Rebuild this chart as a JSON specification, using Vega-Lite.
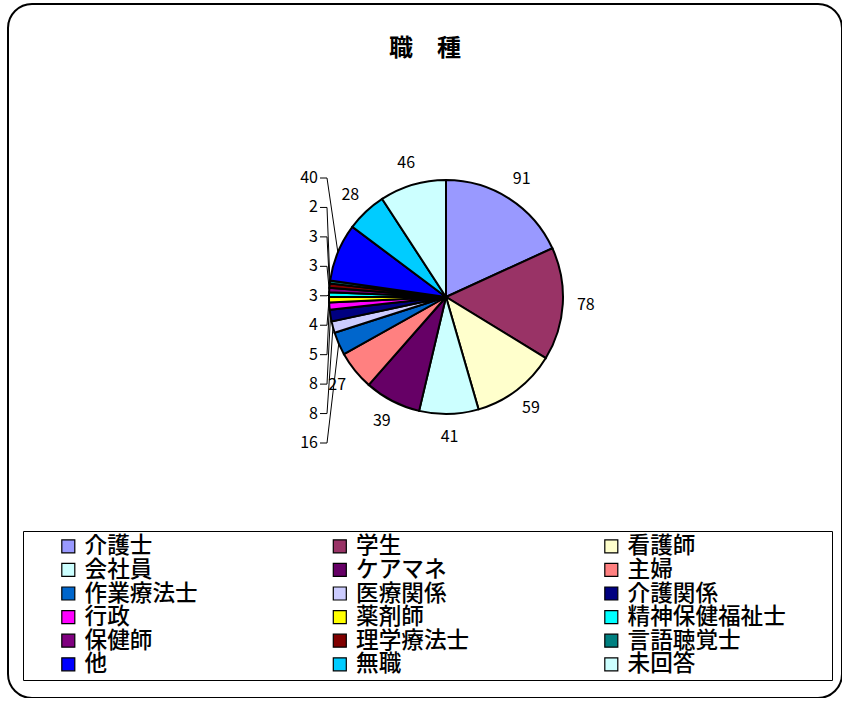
{
  "$schema": "https://vega.github.io/schema/vega-lite/v6.json",
  "width": 834,
  "height": 694,
  "padding": {"left": 8, "top": 4, "right": 0, "bottom": 0},
  "autosize": {"type": "none"},
  "background": "white",
  "config": {
    "view": {"stroke": "black", "strokeWidth": 2, "cornerRadius": 24, "fill": "white"},
    "font": "Noto Sans CJK JP"
  },
  "title": {
    "text": "職　種",
    "fontSize": 24,
    "fontWeight": "bold",
    "font": "Noto Sans CJK JP",
    "color": "black",
    "anchor": "middle",
    "frame": "group",
    "baseline": "top",
    "offset": -57
  },
  "data": {
    "values": [
      {"職種": "介護士", "人数": 91},
      {"職種": "学生", "人数": 78},
      {"職種": "看護師", "人数": 59},
      {"職種": "会社員", "人数": 41},
      {"職種": "ケアマネ", "人数": 39},
      {"職種": "主婦", "人数": 27},
      {"職種": "作業療法士", "人数": 16},
      {"職種": "医療関係", "人数": 8},
      {"職種": "介護関係", "人数": 8},
      {"職種": "行政", "人数": 5},
      {"職種": "薬剤師", "人数": 4},
      {"職種": "精神保健福祉士", "人数": 3},
      {"職種": "保健師", "人数": 3},
      {"職種": "理学療法士", "人数": 3},
      {"職種": "言語聴覚士", "人数": 2},
      {"職種": "他", "人数": 40},
      {"職種": "無職", "人数": 28},
      {"職種": "未回答", "人数": 46}
    ]
  },
  "transform": [
    {"window": [{"op": "row_number", "as": "i"}]},
    {"joinaggregate": [{"op": "sum", "field": "人数", "as": "total"}]},
    {"window": [{"op": "sum", "field": "人数", "as": "cum"}], "sort": [{"field": "i"}], "frame": [null, 0]}
  ],
  "layer": [
    {
      "mark": {"type": "arc", "outerRadius": 117, "stroke": "black", "strokeWidth": 2, "x": 438, "y": 293},
      "encoding": {
        "theta": {"field": "人数", "type": "quantitative", "stack": true},
        "order": {"field": "i", "type": "quantitative"},
        "color": {
          "field": "職種",
          "type": "nominal",
          "scale": {
            "domain": ["介護士", "会社員", "作業療法士", "行政", "保健師", "他", "学生", "ケアマネ", "医療関係", "薬剤師", "理学療法士", "無職", "看護師", "主婦", "介護関係", "精神保健福祉士", "言語聴覚士", "未回答"],
            "range": ["#9999FF", "#CCFFFF", "#0066CC", "#FF00FF", "#800080", "#0000FF", "#993366", "#660066", "#CCCCFF", "#FFFF00", "#800000", "#00CCFF", "#FFFFCC", "#FF8080", "#000080", "#00FFFF", "#008080", "#CCFFFF"]
          },
          "legend": {
            "orient": "none",
            "legendX": 15,
            "legendY": 527,
            "columns": 3,
            "columnPadding": 100.5,
            "rowPadding": 0.6,
            "gridAlign": "each",
            "labelFontSize": 22.6,
            "labelFontWeight": 500,
            "labelFont": "Noto Sans CJK JP",
            "labelColor": "black",
            "symbolOffset": 30,
            "labelOffset": 5,
            "labelLimit": 400,
            "symbolType": "square",
            "symbolSize": 169,
            "symbolStrokeColor": "black",
            "symbolStrokeWidth": 1.2,
            "symbolOpacity": 1,
            "strokeColor": "black",
            "fillColor": "white",
            "padding": 4,
            "title": " ",
            "titleOrient": "right",
            "titleFontSize": 1,
            "titlePadding": 41.8
          }
        }
      }
    },
    {
      "mark": {"type": "text", "radius": 140, "x": 438, "y": 293, "fontSize": 16, "color": "black", "font": "Noto Sans CJK JP"},
      "encoding": {
        "theta": {"field": "人数", "type": "quantitative", "stack": true},
        "order": {"field": "i", "type": "quantitative"},
        "detail": {"field": "職種", "type": "nominal"},
        "text": {
          "condition": {"test": "datum['人数'] >= 27 && datum['職種'] != '他'", "field": "人数", "type": "quantitative"},
          "value": ""
        }
      }
    },
    {
      "transform": [{"filter": {"field": "職種", "oneOf": ["他", "言語聴覚士", "理学療法士", "保健師", "精神保健福祉士", "薬剤師", "行政", "介護関係", "医療関係", "作業療法士"]}}],
      "layer": [
        {
          "mark": {"type": "text", "align": "right", "baseline": "middle", "fontSize": 16, "color": "black", "font": "Noto Sans CJK JP"},
          "encoding": {
            "x": {"value": 310},
            "y": {
              "field": "職種",
              "type": "nominal",
              "scale": {"type": "point", "domain": ["他", "言語聴覚士", "理学療法士", "保健師", "精神保健福祉士", "薬剤師", "行政", "介護関係", "医療関係", "作業療法士"], "range": [174, 439], "padding": 0},
              "axis": null
            },
            "text": {"field": "人数", "type": "quantitative"}
          }
        },
        {
          "mark": {"type": "rule", "color": "black", "strokeWidth": 1},
          "encoding": {
            "y": {"field": "職種", "type": "nominal"},
            "x": {"value": 312},
            "x2": {"value": 319}
          }
        },
        {
          "mark": {"type": "rule", "color": "black", "strokeWidth": 1},
          "encoding": {
            "x": {"value": 319},
            "y": {"value": {"expr": "scale('y', datum['職種'])"}},
            "x2": {"value": {"expr": "438 + 117*sin(2*PI*(datum.cum - datum['人数']/2)/datum.total)"}},
            "y2": {"value": {"expr": "293 - 117*cos(2*PI*(datum.cum - datum['人数']/2)/datum.total)"}}
          }
        }
      ]
    }
  ]
}
